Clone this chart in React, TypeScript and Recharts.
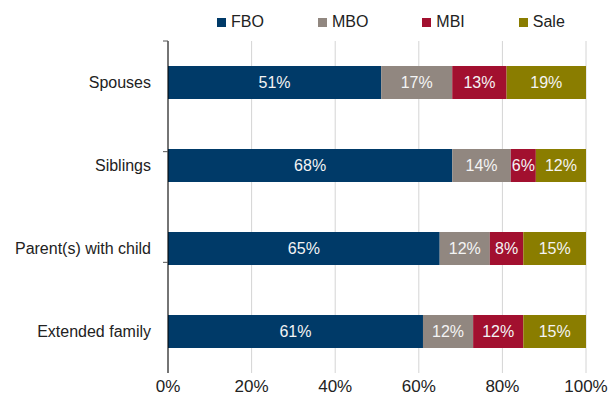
import {
  BarChart,
  Bar,
  XAxis,
  YAxis,
  CartesianGrid,
  Legend,
  LabelList,
} from 'recharts';

const categories = ['Spouses', 'Siblings', 'Parent(s) with child', 'Extended family'];
const fboValues = [51, 68, 65, 61];
const mboValues = [17, 14, 12, 12];
const mbiValues = [13, 6, 8, 12];
const saleValues = [19, 12, 15, 15];
const xTicks = [0, 20, 40, 60, 80, 100];
const frameTicks = [0, 1, 2, 3, 4];

const seriesNames = ['FBO', 'MBO', 'MBI', 'Sale'];
const seriesColors = ['#003a68', '#918780', '#a2102f', '#8a7d00'];

const FONT = '"Liberation Sans", Arial, sans-serif';

const data = categories.map((name, i) => ({
  name,
  FBO: fboValues[i],
  MBO: mboValues[i],
  MBI: mbiValues[i],
  Sale: saleValues[i],
}));

function renderLegend() {
  return (
    <div
      style={{
        height: 41,
        boxSizing: 'border-box',
        paddingTop: 3,
        paddingLeft: 209,
        display: 'flex',
        alignItems: 'center',
        fontFamily: FONT,
        fontSize: 16,
        color: '#222',
      }}
    >
      {seriesNames.map((name, i) => (
        <div
          key={name}
          style={{ display: 'flex', alignItems: 'center', marginRight: 54 }}
        >
          <span
            style={{
              width: 9,
              height: 9,
              background: seriesColors[i],
              marginRight: 5,
              display: 'inline-block',
            }}
          />
          <span>{name}</span>
        </div>
      ))}
    </div>
  );
}

const pct = (v: number) => `${v}%`;

// boundary ticks only, no labels
const NoLabel = () => <g />;

export default function App() {
  return (
    <div style={{ position: 'absolute', left: 0, top: 0 }}>
      <BarChart
        width={610}
        height={403}
        data={data}
        layout="vertical"
        margin={{ top: 0, right: 24, bottom: 0, left: 8 }}
        barSize={33}
      >
        <Legend verticalAlign="top" height={41} content={renderLegend} />
        <CartesianGrid horizontal={false} stroke="#d4d4d4" />
        <XAxis
          type="number"
          domain={[0, 100]}
          ticks={xTicks}
          tickFormatter={pct}
          axisLine={false}
          tickLine={false}
          tickSize={0}
          tickMargin={7}
          height={30}
          tick={{ fill: '#222', fontSize: 17, fontFamily: FONT }}
        />
        <YAxis
          type="number"
          orientation="left"
          domain={[0, 4]}
          ticks={frameTicks}
          tick={NoLabel}
          width={1}
          tickSize={5}
          tickLine={{ stroke: '#555' }}
          axisLine={{ stroke: '#000' }}
        />
        <YAxis
          yAxisId="cat"
          type="category"
          dataKey="name"
          width={159}
          axisLine={false}
          tickLine={false}
          tickSize={0}
          tickMargin={16}
          tick={{ fill: '#222', fontSize: 16, fontFamily: FONT }}
        />
        {seriesNames.map((name, i) => (
          <Bar
            key={name}
            yAxisId="cat"
            dataKey={name}
            stackId="a"
            fill={seriesColors[i]}
            isAnimationActive={false}
          >
            <LabelList
              dataKey={name}
              position="center"
              formatter={pct}
              fill="#f4f4f4"
              fontSize={16}
              fontFamily={FONT}
            />
          </Bar>
        ))}
      </BarChart>
    </div>
  );
}
